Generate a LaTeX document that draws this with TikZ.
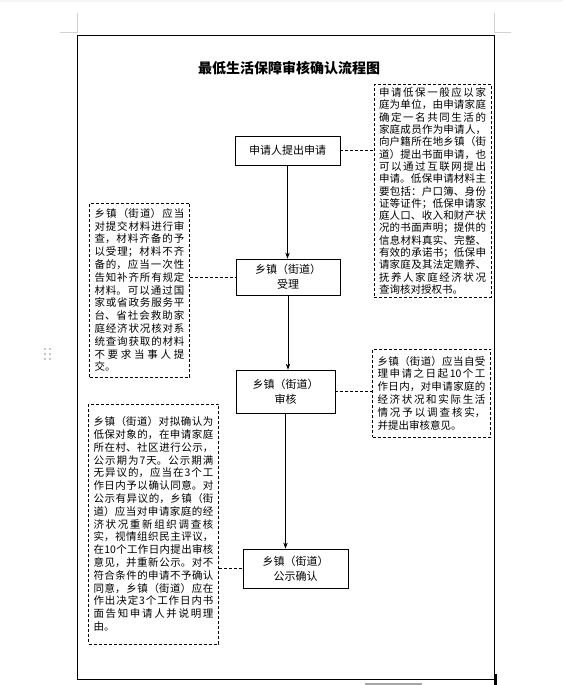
\documentclass[tikz,border=0pt]{standalone}
\usepackage{fontspec}
\setmainfont{Noto Sans CJK SC}
\usetikzlibrary{arrows.meta}
\XeTeXlinebreaklocale "zh"
\XeTeXlinebreakskip=0pt plus 3pt

\begin{document}
\begin{tikzpicture}[
    x=1pt, y=-1pt,
    stepbox/.style={draw, line width=0.8pt, align=center, inner sep=2pt,
                    font=\fontsize{11}{15}\selectfont},
    notebox/.style={draw, line width=0.8pt, dash pattern=on 3pt off 2pt,
                    align=justify, inner xsep=5pt, inner ysep=3pt,
                    font=\fontsize{10.5}{12.8}\selectfont},
    flow/.style={draw, line width=0.8pt, -{Stealth[length=6pt,width=4.5pt]}},
    link/.style={draw, line width=0.8pt, dash pattern=on 3pt off 2pt}
  ]
  \useasboundingbox (0,0) rectangle (563,685);
  % page frame and marks
  \fill[gray!8] (0,0) rectangle (563,2);
  \draw[gray!35, line width=0.8pt] (77,13) -- (77,32) -- (60,32);
  \draw[gray!35, line width=0.8pt] (494,13) -- (494,32) -- (511,32);
  \draw[line width=1pt] (77,36) rectangle (494,679);
  \fill (494,674) rectangle (497,685);
  \fill[gray!70] (365,683) rectangle (422,685);
  \foreach \dy in {349,354,359} {
    \fill[gray!60] (45,\dy) circle (1.1pt);
    \fill[gray!60] (50,\dy) circle (1.1pt);
  }

  \node[font=\bfseries\fontsize{14}{16}\selectfont] (title) at (289,68) {最低生活保障审核确认流程图};

  % steps
  \node[stepbox, minimum width=105pt, minimum height=29pt] (apply) at (287.5,150.5) {申请人提出申请};
  \node[stepbox, minimum width=104pt, minimum height=36pt] (accept) at (288,277) {乡镇（街道）\\受理};
  \node[stepbox, minimum width=99pt, minimum height=43pt] (review) at (285.5,391.5) {乡镇（街道）\\审核};
  \node[stepbox, minimum width=105pt, minimum height=39pt] (publish) at (295.5,568.5) {乡镇（街道）\\公示确认};

  % notes
  \node[notebox, text width=107pt, minimum height=212pt,
        font=\fontsize{10.5}{12.3}\selectfont] (applynote) at (432.5,191) {%
    申请低保一般应以家\linebreak 庭为单位，由申请家庭\linebreak 确定一名共同生活的\linebreak
    家庭成员作为申请人，\linebreak 向户籍所在地乡镇（街\linebreak 道）提出书面申请，也\linebreak
    可以通过互联网提出\linebreak 申请。低保申请材料主\linebreak 要包括：户口簿、身份\linebreak
    证等证件；低保申请家\linebreak 庭人口、收入和财产状\linebreak 况的书面声明；提供的\linebreak
    信息材料真实、完整、\linebreak 有效的承诺书；低保申\linebreak 请家庭及其法定赡养、\linebreak
    抚养人家庭经济状况\linebreak 查询核对授权书。};
  \node[notebox, text width=90pt, minimum height=174pt] (acceptnote) at (139.5,290) {%
    乡镇（街道）应当\linebreak 对提交材料进行审\linebreak 查，材料齐备的予\linebreak
    以受理；材料不齐\linebreak 备的，应当一次性\linebreak 告知补齐所有规定\linebreak
    材料。可以通过国\linebreak 家或省政务服务平\linebreak 台、省社会救助家\linebreak
    庭经济状况核对系\linebreak 统查询获取的材料\linebreak 不要求当事人提\linebreak 交。};
  \node[notebox, text width=108pt, minimum height=88pt] (reviewnote) at (431.5,393) {%
    乡镇（街道）应当自受\linebreak 理申请之日起10个工\linebreak 作日内，对申请家庭的\linebreak
    经济状况和实际生活\linebreak 情况予以调查核实，\linebreak 并提出审核意见。};
  \node[notebox, text width=120pt, minimum height=240pt] (publishnote) at (153.5,524) {%
    乡镇（街道）对拟确认为\linebreak 低保对象的，在申请家庭\linebreak 所在村、社区进行公示，\linebreak
    公示期为7天。公示期满\linebreak 无异议的，应当在3个工\linebreak 作日内予以确认同意。对\linebreak
    公示有异议的，乡镇（街\linebreak 道）应当对申请家庭的经\linebreak 济状况重新组织调查核\linebreak
    实，视情组织民主评议，\linebreak 在10个工作日内提出审核\linebreak 意见，并重新公示。对不\linebreak
    符合条件的申请不予确认\linebreak 同意，乡镇（街道）应在\linebreak 作出决定3个工作日内书\linebreak
    面告知申请人并说明理\linebreak 由。};

  % flow
  \draw[flow] (apply.south) -- (apply.south |- accept.north);
  \draw[flow] (accept.south) -- (accept.south |- review.north);
  \draw[flow] (review.south) -- (review.south |- publish.north);

  % note links
  \draw[link] (apply.east) -- (apply.east -| applynote.west);
  \draw[link] (acceptnote.east |- accept.west) -- (accept.west);
  \draw[link] (review.east) -- (review.east -| reviewnote.west);
  \draw[link] (publishnote.east |- publish.west) -- (publish.west);
\end{tikzpicture}
\end{document}
